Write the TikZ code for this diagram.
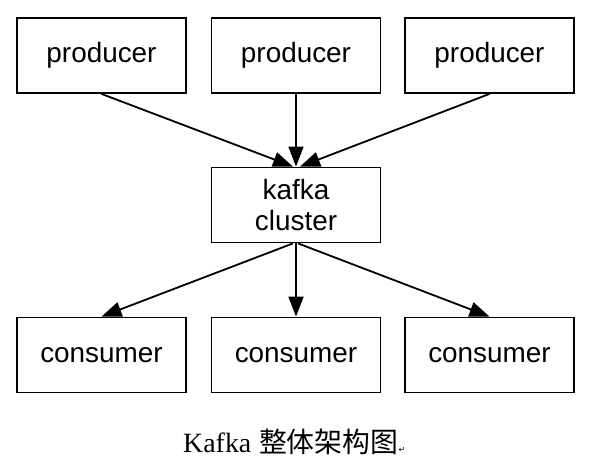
\documentclass[tikz,border=0pt]{standalone}
\usepackage{fontspec}
\setmainfont{Liberation Sans}
\newfontfamily\capfont{Liberation Serif}
\newfontfamily\cjk{Noto Sans CJK SC}
\newfontfamily\symfont{DejaVu Sans}
\usetikzlibrary{arrows.meta,calc}

\begin{document}
\begin{tikzpicture}[x=1bp,y=-1bp,>={Triangle[length=20bp,width=15bp]},
  box/.style={draw,line width=1.8bp,minimum width=169bp,minimum height=75bp,
              inner sep=0pt,align=center,font=\fontsize{28}{31}\selectfont},
  flow/.style={->,line width=1.8bp}]
  \useasboundingbox (0,0) rectangle (595,461);
  % producers
  \node[box] (prodA) at (101.5,55.5) {producer};
  \node[box] (prodB) at (296,55.5) {producer};
  \node[box] (prodC) at (489.5,55.5) {producer};
  % broker
  \node[box] (kafka) at (296,205) {kafka\\cluster};
  % consumers
  \node[box] (consA) at (101.5,355) {consumer};
  \node[box] (consB) at (296,355) {consumer};
  \node[box] (consC) at (489.5,355) {consumer};
  \draw[flow] (prodA.south) -- ($(kafka.north)+(-3,0)$);
  \draw[flow] (prodB.south) -- (kafka.north);
  \draw[flow] (prodC.south) -- ($(kafka.north)+(4,0)$);
  \draw[flow] ($(kafka.south)+(-3,0)$) -- (consA.north);
  \draw[flow] (kafka.south) -- (consB.north);
  \draw[flow] ($(kafka.south)+(2,0)$) -- (consC.north);
  \node[anchor=base west,inner sep=0pt,font=\fontsize{28}{30}\selectfont] (caption) at (183,452)
    {{\capfont Kafka} {\cjk 整体架构图}{\symfont\fontsize{8}{8}\selectfont ↵}};
\end{tikzpicture}
\end{document}
